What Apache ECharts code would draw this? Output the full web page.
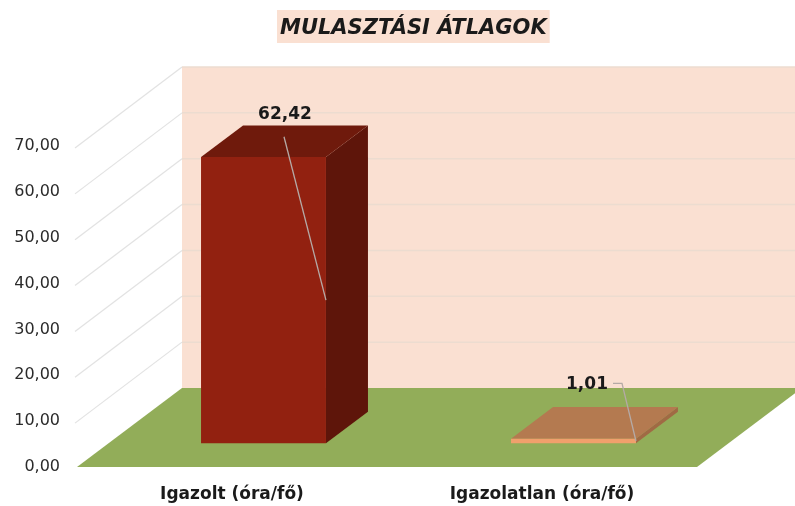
<!DOCTYPE html>
<html>
<head>
<meta charset="utf-8">
<style>
  html, body { margin: 0; padding: 0; background: #fff; }
  #chart { width: 795px; height: 506px; }
</style>
<script src="https://cdn.jsdelivr.net/npm/echarts@6/dist/echarts.min.js"></script>
</head>
<body>
<div id="chart"></div>
<script>
const categories = ['Igazolt (óra/fő)', 'Igazolatlan (óra/fő)'];
const values = [62.42, 1.01];
const yTicks = [0, 10, 20, 30, 40, 50, 60, 70];

// 3D look: depth of the chart box in pixels
const DEPTH_X = 105;
const DEPTH_Y = -79;
const BAR_WIDTH = 0.403;   // share of the category band
const BAR_START = 0.3;     // where the bar starts in the depth
const BAR_DEPTH = 0.4;     // how deep the bar is

const barColors = [
  { front: '#922110', top: '#6f1a0c', side: '#5e150a' },
  { front: '#f0a06c', top: '#b47a50', side: '#a06a44' }
];
// label + leader line offsets from the category centre / value point
const labelLayout = [
  { label: [53, -66], leader: [[52, -44]] },
  { label: [45, -78], leader: [[71, -79], [80, -79]] }
];

const fmt = v => v.toFixed(2).replace('.', ',');
const poly = (points, fill) => ({ type: 'polygon', shape: { points }, style: { fill } });
const line = (points, stroke, width) => ({
  type: 'polyline',
  shape: { points },
  style: { stroke, lineWidth: width || 1, fill: 'none' }
});

// back wall and floor
const renderBox = (params) => {
  const c = params.coordSys;
  const bottom = c.y + c.height;
  return {
    type: 'group',
    children: [
      poly([
        [c.x + DEPTH_X, c.y + DEPTH_Y],
        [c.x + c.width + DEPTH_X, c.y + DEPTH_Y],
        [c.x + c.width + DEPTH_X, bottom + DEPTH_Y],
        [c.x + DEPTH_X, bottom + DEPTH_Y]
      ], '#fae0d2'),
      poly([
        [c.x, bottom],
        [c.x + c.width, bottom],
        [c.x + c.width + DEPTH_X, bottom + DEPTH_Y],
        [c.x + DEPTH_X, bottom + DEPTH_Y]
      ], '#92ad59')
    ]
  };
};

// grid lines, folded over the side wall and the back wall
const renderGrid = (params, api) => {
  const c = params.coordSys;
  const y = api.coord([0, api.value(1)])[1];
  return {
    type: 'group',
    children: [
      line([[c.x - 2, y + 2], [c.x + DEPTH_X, y + DEPTH_Y]], '#e2e2e2', 1.2),
      line([[c.x + DEPTH_X, y + DEPTH_Y], [c.x + c.width + DEPTH_X, y + DEPTH_Y]], '#ecdcd0', 1.5)
    ]
  };
};

const renderBar = (params, api) => {
  const i = api.value(0);
  const band = api.size([1, 0])[0];
  const w = band * BAR_WIDTH;
  const [cx, y0] = api.coord([i, 0]);
  const yv = api.coord([i, api.value(1)])[1];
  const ox = DEPTH_X * BAR_START;
  const oy = DEPTH_Y * BAR_START;
  const dx = DEPTH_X * BAR_DEPTH;
  const dy = DEPTH_Y * BAR_DEPTH;
  const l = cx + ox - w / 2;
  const r = cx + ox + w / 2;
  const b = y0 + oy;
  const t = yv + oy;
  const col = barColors[i];
  return {
    type: 'group',
    children: [
      poly([[r, b], [r + dx, b + dy], [r + dx, t + dy], [r, t]], col.side),
      poly([[l, t], [r, t], [r + dx, t + dy], [l + dx, t + dy]], col.top),
      poly([[l, b], [r, b], [r, t], [l, t]], col.front)
    ]
  };
};

const renderLabel = (params, api) => {
  const i = api.value(0);
  const v = api.value(1);
  const band = api.size([1, 0])[0];
  const w = band * BAR_WIDTH;
  const [cx, y0] = api.coord([i, 0]);
  const yv = api.coord([i, v])[1];
  const layout = labelLayout[i];
  const pts = layout.leader.map(p => [cx + p[0], yv + p[1]]);
  pts.push([cx + DEPTH_X * BAR_START + w / 2, (y0 + yv) / 2 + DEPTH_Y * BAR_START]);
  return {
    type: 'group',
    children: [
      line(pts, '#b5aaa6', 1.3),
      {
        type: 'text',
        style: {
          x: cx + layout.label[0],
          y: yv + layout.label[1],
          text: fmt(v),
          fill: '#1a1a1a',
          font: 'bold 17px "DejaVu Sans"',
          align: 'center',
          verticalAlign: 'middle'
        }
      }
    ]
  };
};

const chart = echarts.init(document.getElementById('chart'), null, { renderer: 'canvas' });
chart.setOption({
  animation: false,
  backgroundColor: '#ffffff',
  title: {
    text: 'MULASZTÁSI ÁTLAGOK',
    left: 277,
    top: 10,
    padding: [8, 3, 4, 3],
    backgroundColor: '#fae0d2',
    textStyle: {
      color: '#1a1a1a',
      fontFamily: 'DejaVu Sans',
      fontSize: 21,
      fontWeight: 'bold',
      fontStyle: 'italic'
    }
  },
  grid: { left: 77, right: 98, top: 146, height: 321 },
  xAxis: {
    type: 'category',
    data: categories,
    axisLine: { show: false },
    axisTick: { show: false },
    axisLabel: {
      color: '#1a1a1a',
      fontFamily: 'DejaVu Sans',
      fontSize: 17,
      fontWeight: 'bold',
      margin: 19
    }
  },
  yAxis: {
    type: 'value',
    min: 0,
    max: 70,
    interval: 10,
    axisLine: { show: false },
    axisTick: { show: false },
    splitLine: { show: false },
    axisLabel: {
      color: '#2b2b2b',
      fontFamily: 'DejaVu Sans',
      fontSize: 16,
      margin: 17,
      padding: [3, 0, 0, 0],
      formatter: fmt
    }
  },
  series: [
    { type: 'custom', silent: true, z: 1, clip: false, data: [[0, 0]], encode: { x: 0, y: 1 }, renderItem: renderBox },
    { type: 'custom', silent: true, z: 2, clip: false, data: yTicks.filter(v => v > 0).map(v => [0, v]), encode: { x: 0, y: 1 }, renderItem: renderGrid },
    { type: 'custom', silent: true, z: 3, clip: false, data: values.map((v, i) => [i, v]), encode: { x: 0, y: 1 }, renderItem: renderBar },
    { type: 'custom', silent: true, z: 4, clip: false, data: values.map((v, i) => [i, v]), encode: { x: 0, y: 1 }, renderItem: renderLabel }
  ]
});
</script>
</body>
</html>
